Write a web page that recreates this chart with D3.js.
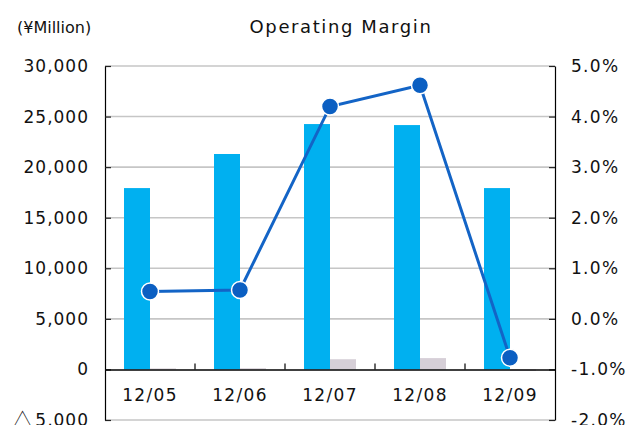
<!DOCTYPE html>
<html>
<head>
<meta charset="utf-8">
<script src="https://cdn.jsdelivr.net/npm/d3@7"></script>
<style>
  body { margin: 0; background: #fff; }
  svg { display: block; font-family: "DejaVu Sans", sans-serif; }
  .tick text { font-size: 17px; fill: #111; letter-spacing: 1px; }
</style>
</head>
<body>
<svg width="630" height="425"></svg>
<script>
// fiscal years
const years = ['12/05', '12/06', '12/07', '12/08', '12/09'];
// net sales (¥ million), blue bars
const sales = [17930, 21300, 24260, 24160, 17930];
// operating income (¥ million), grey bars
const income = [100, 120, 1010, 1120, -140];
// operating margin (%), line
const margin = [0.54, 0.57, 4.2, 4.62, -0.77];

const leftTicks = [-5000, 0, 5000, 10000, 15000, 20000, 25000, 30000];
const rightTicks = [-2, -1, 0, 1, 2, 3, 4, 5];

const plot = {left: 105, right: 555, top: 66, bottom: 420};

const svg = d3.select('svg');

const x = d3.scaleBand()
    .domain(years)
    .range([plot.left, plot.right]);

const yLeft = d3.scaleLinear()
    .domain([-5000, 30000])
    .range([plot.bottom, plot.top]);

const yRight = d3.scaleLinear()
    .domain([-2, 5])
    .range([plot.bottom, plot.top]);

const barW = 26;

// gridlines
svg.append('g')
    .selectAll('line')
    .data(leftTicks.filter(d => d !== 0))
    .join('line')
    .attr('x1', plot.left)
    .attr('x2', plot.right)
    .attr('y1', d => yLeft(d))
    .attr('y2', d => yLeft(d))
    .attr('stroke', '#c6c6c6')
    .attr('stroke-width', 1.6);

// sales bars
svg.append('g')
    .selectAll('rect')
    .data(sales)
    .join('rect')
    .attr('x', (d, i) => x(years[i]) + x.bandwidth() / 2 - barW)
    .attr('y', d => yLeft(d))
    .attr('width', barW)
    .attr('height', d => yLeft(0) - yLeft(d))
    .attr('fill', '#00b0f0');

// operating income bars
svg.append('g')
    .selectAll('rect')
    .data(income)
    .join('rect')
    .attr('x', (d, i) => x(years[i]) + x.bandwidth() / 2)
    .attr('y', d => yLeft(Math.max(d, 0)))
    .attr('width', barW)
    .attr('height', d => Math.max(Math.abs(yLeft(0) - yLeft(d)), 1))
    .attr('fill', '#d6cfd7');

// left axis
const fmt = d3.format(',');
const leftAxis = svg.append('g')
    .attr('transform', `translate(${plot.left},0)`)
    .call(d3.axisLeft(yLeft)
        .tickValues(leftTicks)
        .tickSizeInner(-6)
        .tickSizeOuter(0)
        .tickPadding(16)
        .tickFormat(d => d < 0 ? '△ ' + fmt(-d) : fmt(d)));

// the negative label uses a full-width triangle
leftAxis.selectAll('.tick text')
    .filter(d => d < 0)
    .text(null)
    .call(t => {
        t.append('tspan').attr('font-family', '"Noto Sans CJK JP", sans-serif').attr('font-size', 18).text('△');
        t.append('tspan').attr('font-size', 6).text(' ');
        t.append('tspan').text(fmt(5000));
    });

// right axis
const rightAxis = svg.append('g')
    .attr('transform', `translate(${plot.right},0)`)
    .call(d3.axisRight(yRight)
        .tickValues(rightTicks)
        .tickSizeInner(-6)
        .tickSizeOuter(0)
        .tickPadding(16)
        .tickFormat(d => d3.format('.1f')(d).replace('−', '-') + '%'));

rightAxis.selectAll('.tick text').style('letter-spacing', '1.3px');

[leftAxis, rightAxis].forEach(a => {
    a.select('.domain').attr('stroke', '#000').attr('stroke-width', 1.2);
    a.selectAll('.tick line').attr('stroke', '#222').attr('stroke-width', 1.2);
    a.selectAll('.tick text').attr('font-family', '"DejaVu Sans", sans-serif');
});

// category axis on zero line, ticks pointing up between groups
svg.append('g')
    .attr('transform', `translate(0,${yLeft(0)})`)
    .call(d3.axisBottom(x)
        .tickSize(0)
        .tickPadding(20))
    .call(g => g.select('.domain').attr('stroke', '#000').attr('stroke-width', 1.5))
    .call(g => g.selectAll('.tick text')
        .attr('font-family', '"DejaVu Sans", sans-serif')
        .style('letter-spacing', '1.3px'));

svg.append('g')
    .selectAll('line')
    .data(years.slice(1))
    .join('line')
    .attr('x1', d => x(d))
    .attr('x2', d => x(d))
    .attr('y1', yLeft(0))
    .attr('y2', yLeft(0) - 6)
    .attr('stroke', '#000')
    .attr('stroke-width', 1.2);

// margin line
const line = d3.line()
    .x((d, i) => x(years[i]) + x.bandwidth() / 2)
    .y(d => yRight(d));

svg.append('path')
    .datum(margin)
    .attr('fill', 'none')
    .attr('stroke', '#1364c6')
    .attr('stroke-width', 3)
    .attr('d', line);

svg.append('g')
    .selectAll('circle')
    .data(margin)
    .join('circle')
    .attr('cx', (d, i) => x(years[i]) + x.bandwidth() / 2)
    .attr('cy', d => yRight(d))
    .attr('r', 8.5)
    .attr('fill', '#0b5fc2')
    .attr('stroke', '#fff')
    .attr('stroke-width', 1.5);

// titles
svg.append('text')
    .attr('x', 341)
    .attr('y', 33)
    .attr('text-anchor', 'middle')
    .attr('font-size', 18)
    .style('letter-spacing', '1.6px')
    .attr('fill', '#111')
    .text('Operating Margin');

svg.append('text')
    .attr('x', 17)
    .attr('y', 33)
    .attr('font-size', 16)
    .attr('fill', '#111')
    .text('(¥Million)');
</script>
</body>
</html>
